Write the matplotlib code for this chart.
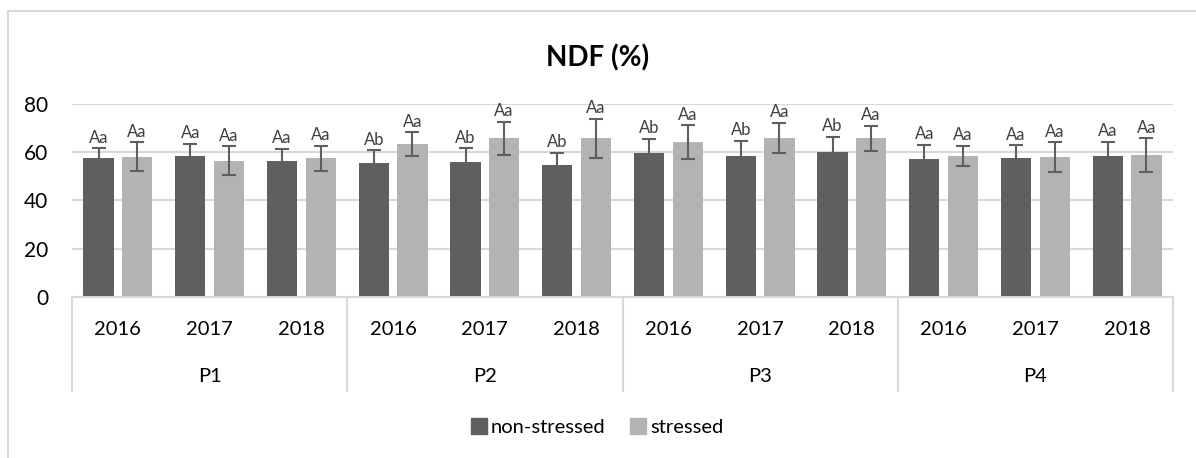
import numpy as np
import matplotlib.pyplot as plt
from matplotlib.patches import Patch

plt.rcParams['font.family'] = ['Lato', 'DejaVu Sans']

groups = ["P1", "P2", "P3", "P4"]
years = ["2016", "2017", "2018"]

# one value per group/year, in order P1 2016 .. P4 2018
non_stressed = [57.3, 58.3, 56.3, 55.4, 55.9, 54.4, 59.4, 58.4, 59.8, 57.1, 57.4, 58.3]
stressed = [58.0, 56.3, 57.3, 63.2, 65.6, 65.6, 64.0, 65.8, 65.6, 58.3, 57.7, 58.7]
err_non = [4.1, 5.0, 5.0, 5.2, 5.5, 5.2, 6.0, 6.2, 6.4, 5.8, 5.4, 5.9]
err_str = [6.1, 6.0, 5.3, 5.0, 6.9, 8.1, 7.0, 6.2, 5.2, 4.2, 6.2, 7.0]
lab_non = ["Aa", "Aa", "Aa", "Ab", "Ab", "Ab", "Ab", "Ab", "Ab", "Aa", "Aa", "Aa"]
lab_str = ["Aa"] * 12

dark = "#5f5f5f"
light = "#b3b3b3"
grid = "#d9d9d9"

fig = plt.figure(figsize=(11.96, 4.58), dpi=100)
# outer chart frame
fig.patches.append(plt.Rectangle((8 / 1196, -0.1), 1.2, 1 - 11 / 458 + 0.1,
                                 transform=fig.transFigure, fill=False,
                                 edgecolor=grid, linewidth=1.5))

ax = fig.add_axes([72 / 1196, 1 - 297 / 458, (1173 - 72) / 1196, (297 - 103.5) / 458])

n = len(non_stressed)
x = np.arange(n) + 0.5
w = 0.33
off = 0.21

ax.bar(x - off, non_stressed, w, color=dark, zorder=2)
ax.bar(x + off, stressed, w, color=light, zorder=2)
ax.errorbar(x - off, non_stressed, yerr=err_non, fmt="none", ecolor=dark,
            elinewidth=1.5, capsize=5, capthick=1.5, zorder=3)
ax.errorbar(x + off, stressed, yerr=err_str, fmt="none", ecolor=dark,
            elinewidth=1.5, capsize=5, capthick=1.5, zorder=3)

for i in range(n):
    ax.text(x[i] - off, non_stressed[i] + err_non[i] + 1.0, lab_non[i],
            ha="center", va="bottom", fontsize=12, color="#404040")
    ax.text(x[i] + off, stressed[i] + err_str[i] + 1.0, lab_str[i],
            ha="center", va="bottom", fontsize=12, color="#404040")

ax.set_xlim(0, n)
ax.set_ylim(0, 80)
ax.set_yticks([0, 20, 40, 60, 80])
ax.tick_params(axis="y", length=0, pad=17, labelsize=15)
ax.set_xticks([])
ax.yaxis.grid(True, color=grid, linewidth=1.5, zorder=0)
for s in ax.spines.values():
    s.set_visible(False)

# category axis: base line, dividers, year and group labels
trans = ax.get_xaxis_transform()
ax.plot([0, n], [0, 0], color=grid, linewidth=1.5, transform=trans, clip_on=False)
for b in range(0, n + 1, 3):
    ax.plot([b, b], [0, -0.486], color=grid, linewidth=1.5, transform=trans, clip_on=False)
for i in range(n):
    ax.text(x[i], -0.17, years[i % 3], ha="center", va="center",
            fontsize=14.5, transform=trans)
for g, name in enumerate(groups):
    ax.text(g * 3 + 1.5, -0.413, name, ha="center", va="center",
            fontsize=14.5, transform=trans)

fig.text(0.5, 1 - 58 / 458, "NDF (%)", ha="center", va="center",
         fontsize=20, fontweight="bold")

handles = [Patch(color=dark, label="non-stressed"), Patch(color=light, label="stressed")]
fig.legend(handles=handles, loc="center", bbox_to_anchor=(597 / 1196, 1 - 427 / 458),
           ncol=2, frameon=False, fontsize=14.5, handlelength=0.8, handleheight=0.8,
           handletextpad=0.2, columnspacing=1.2)

fig.savefig("out.png", dpi=100)
